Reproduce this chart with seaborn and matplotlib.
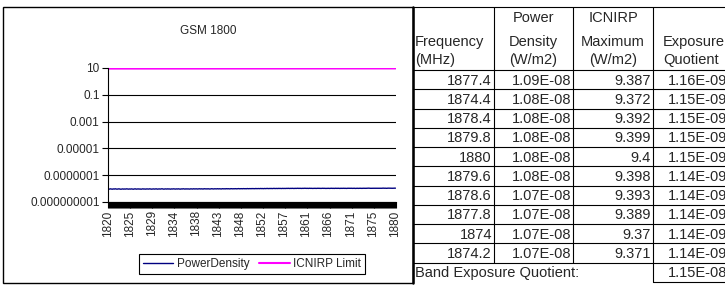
import numpy as np
import matplotlib
matplotlib.use("Agg")
import matplotlib.pyplot as plt
from matplotlib.lines import Line2D
from matplotlib.patches import Rectangle
from matplotlib.ticker import NullLocator
import seaborn as sns

W, H = 725, 286

# frequency categories (MHz), one every 0.2 MHz across the band
freq = np.round(np.arange(1820.0, 1880.01, 0.2), 1)

power_density_nw = [
    9.4, 9.1, 9.6, 9.3, 9.0, 9.5, 9.2, 9.7, 9.3, 9.1, 9.4, 9.6, 9.2, 9.0, 9.3, 9.5, 9.1, 9.4, 9.2, 9.6, 9.3, 9.1, 9.4,
    9.2, 9.5, 9.3, 9.0, 9.4, 9.6, 9.1, 9.3, 9.5, 9.2, 9.4, 9.0, 9.3, 9.6, 9.2, 9.4, 9.1, 9.5, 9.3, 9.2, 9.6, 9.4, 9.1,
    9.3, 9.5, 9.2, 9.4, 9.6, 9.1, 9.3, 9.5, 9.2, 9.4, 9.7, 9.3, 9.1, 9.4, 9.5, 9.2, 9.6, 9.3, 9.4, 9.1, 9.5, 9.3, 9.6,
    9.4, 9.2, 9.5, 9.3, 9.6, 9.4, 9.1, 9.5, 9.3, 9.7, 9.4, 9.2, 9.6, 9.3, 9.5, 9.4, 9.2, 9.6, 9.5, 9.3, 9.7, 9.4, 9.5,
    9.6, 9.3, 9.5, 9.7, 9.4, 9.6, 9.5, 9.3, 9.8, 9.5, 9.6, 9.4, 9.7, 9.5, 9.3, 9.6, 9.8, 9.5, 9.4, 9.7, 9.6, 9.5, 9.8,
    9.5, 9.7, 9.6, 9.4, 9.8, 9.6, 9.7, 9.5, 9.9, 9.6, 9.8, 9.7, 9.5, 9.9, 9.7, 9.6, 9.8, 9.7, 9.9, 9.6, 9.8, 10.0, 9.7,
    9.8, 9.9, 9.7, 10.0, 9.8, 9.9, 9.7, 10.1, 9.8, 9.9, 10.0, 9.8, 10.1, 9.9, 10.0, 9.8, 10.2, 9.9, 10.0, 10.1, 9.9, 10.2, 10.0,
    10.1, 9.9, 10.2, 10.0, 10.1, 10.3, 10.0, 10.2, 10.1, 10.3, 10.0, 10.2, 10.4, 10.1, 10.2, 10.3, 10.1, 10.4, 10.2, 10.3, 10.1, 10.4, 10.2,
    10.3, 10.2, 10.4, 10.3, 10.5, 10.2, 10.4, 10.3, 10.5, 10.4, 10.2, 10.5, 10.3, 10.4, 10.6, 10.3, 10.5, 10.4, 10.3, 10.5, 10.4, 10.6, 10.4,
    10.4, 10.5, 10.3, 10.6, 10.4, 10.5, 10.3, 10.4, 10.6, 10.5, 10.3, 10.4, 10.6, 10.4, 10.5, 10.3, 10.5, 10.6, 10.4, 10.5, 10.3, 10.4, 10.5,
    10.5, 10.3, 10.4, 10.6, 10.4, 10.5, 10.3, 10.6, 10.5, 10.4, 10.6, 10.5, 10.3, 10.6, 10.4, 10.5, 10.6, 10.4, 10.5, 10.3, 10.6, 10.5, 10.4,
    10.5, 10.6, 10.4, 10.5, 10.6, 10.3, 10.5, 10.6, 10.4, 10.5, 10.6, 10.5, 10.4, 10.6, 10.5, 10.6, 10.5, 10.70, 10.70, 10.80, 10.6, 10.5, 10.6,
    10.5, 10.6, 10.6, 10.5, 10.6, 10.5, 10.6, 10.4, 10.6, 10.5, 10.6, 10.90, 10.6, 10.73, 10.6, 10.5, 10.81, 10.74, 10.6, 10.5, 10.6, 10.6, 10.76,
    10.79, 10.78,
]

# ICNIRP reference level, W/m2
icnirp_limit = [
    9.100, 9.101, 9.102, 9.103, 9.104, 9.105, 9.106, 9.107, 9.108, 9.109, 9.110, 9.111, 9.112, 9.113, 9.114, 9.115, 9.116, 9.117, 9.118, 9.119, 9.120, 9.121, 9.122,
    9.123, 9.124, 9.125, 9.126, 9.127, 9.128, 9.129, 9.130, 9.131, 9.132, 9.133, 9.134, 9.135, 9.136, 9.137, 9.138, 9.139, 9.140, 9.141, 9.142, 9.143, 9.144, 9.145,
    9.146, 9.147, 9.148, 9.149, 9.150, 9.151, 9.152, 9.153, 9.154, 9.155, 9.156, 9.157, 9.158, 9.159, 9.160, 9.161, 9.162, 9.163, 9.164, 9.165, 9.166, 9.167, 9.168,
    9.169, 9.170, 9.171, 9.172, 9.173, 9.174, 9.175, 9.176, 9.177, 9.178, 9.179, 9.180, 9.181, 9.182, 9.183, 9.184, 9.185, 9.186, 9.187, 9.188, 9.189, 9.190, 9.191,
    9.192, 9.193, 9.194, 9.195, 9.196, 9.197, 9.198, 9.199, 9.200, 9.201, 9.202, 9.203, 9.204, 9.205, 9.206, 9.207, 9.208, 9.209, 9.210, 9.211, 9.212, 9.213, 9.214,
    9.215, 9.216, 9.217, 9.218, 9.219, 9.220, 9.221, 9.222, 9.223, 9.224, 9.225, 9.226, 9.227, 9.228, 9.229, 9.230, 9.231, 9.232, 9.233, 9.234, 9.235, 9.236, 9.237,
    9.238, 9.239, 9.240, 9.241, 9.242, 9.243, 9.244, 9.245, 9.246, 9.247, 9.248, 9.249, 9.250, 9.251, 9.252, 9.253, 9.254, 9.255, 9.256, 9.257, 9.258, 9.259, 9.260,
    9.261, 9.262, 9.263, 9.264, 9.265, 9.266, 9.267, 9.268, 9.269, 9.270, 9.271, 9.272, 9.273, 9.274, 9.275, 9.276, 9.277, 9.278, 9.279, 9.280, 9.281, 9.282, 9.283,
    9.284, 9.285, 9.286, 9.287, 9.288, 9.289, 9.290, 9.291, 9.292, 9.293, 9.294, 9.295, 9.296, 9.297, 9.298, 9.299, 9.300, 9.301, 9.302, 9.303, 9.304, 9.305, 9.306,
    9.307, 9.308, 9.309, 9.310, 9.311, 9.312, 9.313, 9.314, 9.315, 9.316, 9.317, 9.318, 9.319, 9.320, 9.321, 9.322, 9.323, 9.324, 9.325, 9.326, 9.327, 9.328, 9.329,
    9.330, 9.331, 9.332, 9.333, 9.334, 9.335, 9.336, 9.337, 9.338, 9.339, 9.340, 9.341, 9.342, 9.343, 9.344, 9.345, 9.346, 9.347, 9.348, 9.349, 9.350, 9.351, 9.352,
    9.353, 9.354, 9.355, 9.356, 9.357, 9.358, 9.359, 9.360, 9.361, 9.362, 9.363, 9.364, 9.365, 9.366, 9.367, 9.368, 9.369, 9.370, 9.371, 9.372, 9.373, 9.374, 9.375,
    9.376, 9.377, 9.378, 9.379, 9.380, 9.381, 9.382, 9.383, 9.384, 9.385, 9.386, 9.387, 9.388, 9.389, 9.390, 9.391, 9.392, 9.393, 9.394, 9.395, 9.396, 9.397, 9.398,
    9.399, 9.400,
]

ytick_vals = [10, 0.1, 0.001, 0.00001, 0.0000001, 0.000000001]
ytick_labels = ["10", "0.1", "0.001", "0.00001", "0.0000001", "0.000000001"]

# table of the ten highest points
tbl_freq = ["1877.4", "1874.4", "1878.4", "1879.8", "1880", "1879.6", "1878.6", "1877.8", "1874", "1874.2"]
tbl_pd = ["1.09E-08", "1.08E-08", "1.08E-08", "1.08E-08", "1.08E-08", "1.08E-08", "1.07E-08", "1.07E-08", "1.07E-08", "1.07E-08"]
tbl_max = ["9.387", "9.372", "9.392", "9.399", "9.4", "9.398", "9.393", "9.389", "9.37", "9.371"]
tbl_eq = ["1.16E-09", "1.15E-09", "1.15E-09", "1.15E-09", "1.15E-09", "1.14E-09", "1.14E-09", "1.14E-09", "1.14E-09", "1.14E-09"]
band_eq = "1.15E-08"

sns.set_style("white")
plt.rcParams["font.family"] = ["Liberation Sans", "DejaVu Sans"]

fig = plt.figure(figsize=(W / 100, H / 100), dpi=100)


def fx(x):
    return x / W


def fy(y):
    return 1 - y / H


ax = fig.add_axes([fx(108), fy(202), (396 - 108) / W, (202 - 68) / H])
ax.grid(axis="y", color="black", lw=0.8)
ax.set_axisbelow(True)

pd_wm2 = np.array(power_density_nw) * 1e-9
sns.lineplot(x=freq, y=pd_wm2, ax=ax, color="#000080", lw=1, label="PowerDensity")
sns.lineplot(x=freq, y=icnirp_limit, ax=ax, color="#FF00FF", lw=1.5, label="ICNIRP Limit")

ax.set_yscale("log")
ax.set_ylim(1e-9, 10)
ax.set_yticks(ytick_vals)
ax.set_yticklabels(ytick_labels)
ax.yaxis.set_minor_locator(NullLocator())
ax.set_xlim(freq[0] - 0.1, freq[-1] + 0.1)
ax.set_xticks(freq)
ax.set_xticklabels([f"{f:.0f}" if i % 23 == 0 else "" for i, f in enumerate(freq)])
ax.tick_params(axis="x", bottom=True, length=4, width=0.8, color="black",
               labelsize=8.5, rotation=90, pad=2)
ax.tick_params(axis="y", left=True, length=4, width=0.8, color="black", labelsize=8.5, pad=2)
for s in ["top", "right"]:
    ax.spines[s].set_visible(False)
for s in ["left", "bottom"]:
    ax.spines[s].set_color("black")
    ax.spines[s].set_linewidth(0.8)
ax.set_xlabel("")
ax.set_ylabel("")

leg = ax.legend(loc="center", bbox_to_anchor=(fx(252), fy(264)), bbox_transform=fig.transFigure,
                ncol=2, frameon=True, fancybox=False, edgecolor="black", framealpha=1,
                fontsize=8.5, handlelength=2.6, handletextpad=0.3, columnspacing=0.8,
                borderpad=0.3)
leg.get_frame().set_linewidth(0.8)

fig.text(fx(208), fy(31), "GSM 1800", ha="center", va="center", fontsize=8.5)

# chart area border
fig.add_artist(Rectangle((fx(3), fy(283)), 410 / W, 276 / H, transform=fig.transFigure,
                         fill=False, ec="black", lw=1))


# table on the right
def hline(y, x0, x1, lw=0.8):
    fig.add_artist(Line2D([fx(x0), fx(x1)], [fy(y), fy(y)], transform=fig.transFigure,
                          color="black", lw=lw))


def vline(x, y0, y1, lw=0.8):
    fig.add_artist(Line2D([fx(x), fx(x)], [fy(y0), fy(y1)], transform=fig.transFigure,
                          color="black", lw=lw))


def txt(x, y, s, ha):
    fig.text(fx(x), fy(y), s, ha=ha, va="center", fontsize=10.5)


col_edges = [413, 494, 573, 653, 729]
head_bottom = 70
row_h = 19.25
n_rows = len(tbl_freq)
last_row_bottom = head_bottom + row_h * n_rows
table_bottom = last_row_bottom + row_h

hline(7, 413, 725)
hline(head_bottom, 413, 725)
for i in range(1, n_rows + 1):
    hline(head_bottom + row_h * i, 413, 725)
hline(table_bottom, 653, 725)
vline(413, 7, table_bottom + 1, lw=1.8)
for x in col_edges[1:3]:
    vline(x, 7, last_row_bottom)
vline(col_edges[3], 7, table_bottom)

txt(533, 18, "Power", "center")
txt(613, 18, "ICNIRP", "center")
txt(415, 42, "Frequency", "left")
txt(533, 42, "Density", "center")
txt(613, 42, "Maximum", "center")
txt(694, 42, "Exposure", "center")
txt(415, 60, "(MHz)", "left")
txt(533, 60, "(W/m2)", "center")
txt(613, 60, "(W/m2)", "center")
txt(691, 60, "Quotient", "center")

for i in range(n_rows):
    yc = head_bottom + row_h * i + row_h / 2 + 1
    txt(col_edges[1] - 2, yc, tbl_freq[i], "right")
    txt(col_edges[2] - 2, yc, tbl_pd[i], "right")
    txt(col_edges[3] - 2, yc, tbl_max[i], "right")
    txt(col_edges[4] - 2, yc, tbl_eq[i], "right")

yc = last_row_bottom + row_h / 2 + 1
txt(415, yc, "Band Exposure Quotient:", "left")
txt(col_edges[4] - 2, yc, band_eq, "right")

fig.savefig("out.png", dpi=100)
